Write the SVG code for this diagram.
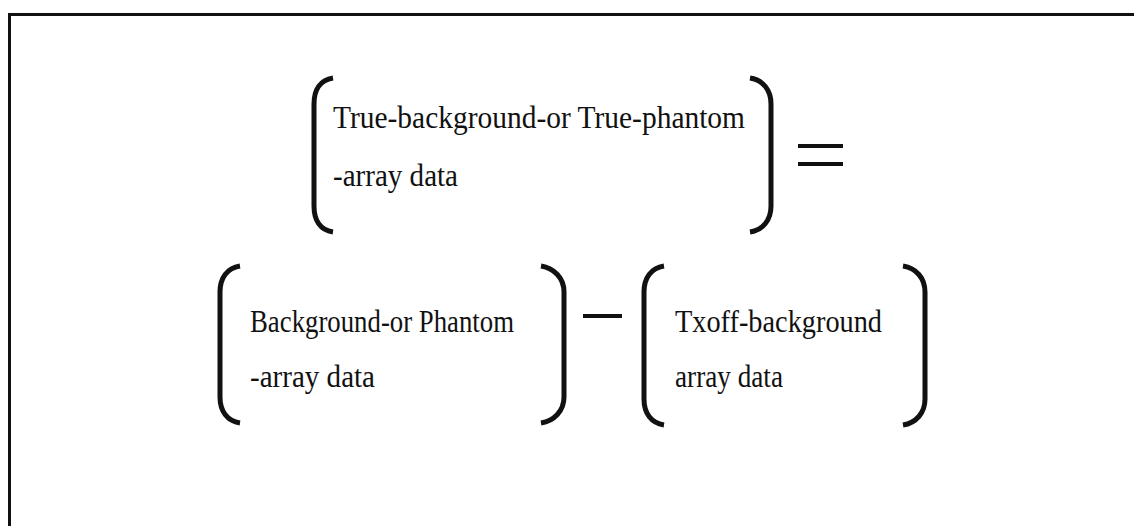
<svg xmlns="http://www.w3.org/2000/svg" width="1134" height="526" viewBox="0 0 1134 526">
<style>
.t{font-family:"Liberation Serif","Times New Roman",serif;font-size:31px;fill:#111}
.br{fill:none;stroke:#111;stroke-width:5;stroke-linecap:butt}
.op{fill:#111}
</style>
<rect width="1134" height="526" fill="#fff"/>
<path d="M9.5,526 V14.5 H1134" fill="none" stroke="#111" stroke-width="3"/>
<g id="lhs">
<path class="br" d="M333,78 C320,80 314,90 314,104 V206 C314,220 320,230 333,232"/>
<text class="t" x="333" y="128" textLength="412" lengthAdjust="spacingAndGlyphs">True-background-or True-phantom</text>
<text class="t" x="333" y="186" textLength="125" lengthAdjust="spacingAndGlyphs">-array data</text>
<path class="br" d="M750,78 C763,80 771,90 771,104 V206 C771,220 763,230 750,232"/>
</g>
<g id="equals">
<rect class="op" x="798" y="144" width="45" height="4"/>
<rect class="op" x="798" y="162" width="45" height="4"/>
</g>
<g id="term1">
<path class="br" d="M240,266 C227,268 220,278 220,292 V397 C220,411 227,421 240,423"/>
<text class="t" x="250" y="332" textLength="264" lengthAdjust="spacingAndGlyphs">Background-or Phantom</text>
<text class="t" x="250" y="387" textLength="125" lengthAdjust="spacingAndGlyphs">-array data</text>
<path class="br" d="M541,266 C554,268 564,278 564,292 V397 C564,411 554,421 541,423"/>
</g>
<g id="minus">
<rect class="op" x="583" y="314" width="39" height="4"/>
</g>
<g id="term2">
<path class="br" d="M664,266 C651,268 644,278 644,292 V399 C644,413 651,423 664,425"/>
<text class="t" x="675" y="332" textLength="207" lengthAdjust="spacingAndGlyphs">Txoff-background</text>
<text class="t" x="675" y="387" textLength="108" lengthAdjust="spacingAndGlyphs">array data</text>
<path class="br" d="M903,266 C916,268 925,278 925,292 V399 C925,413 916,423 903,425"/>
</g>
</svg>
